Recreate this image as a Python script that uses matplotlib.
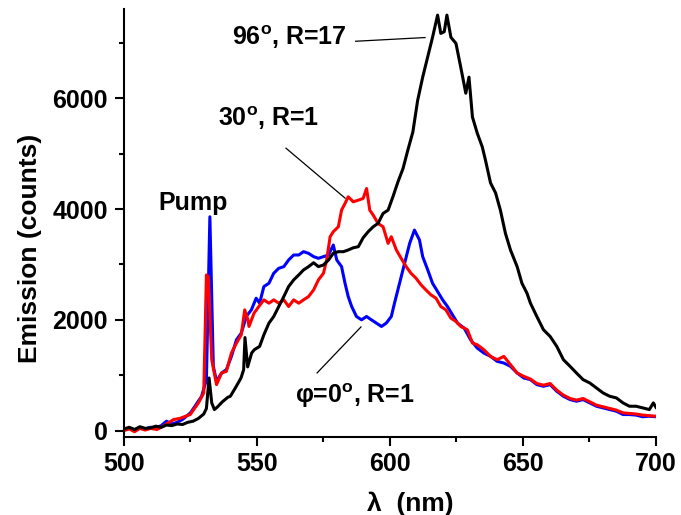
import matplotlib
matplotlib.use("Agg")
import matplotlib.pyplot as plt
from matplotlib.ticker import MultipleLocator

plt.rcParams["font.family"] = ["Liberation Sans", "DejaVu Sans"]
plt.rcParams["font.weight"] = "bold"
plt.rcParams["mathtext.fontset"] = "custom"
plt.rcParams["mathtext.rm"] = "Liberation Sans:bold"
plt.rcParams["mathtext.it"] = "Liberation Sans:bold"
plt.rcParams["mathtext.bf"] = "Liberation Sans:bold"

# phi = 0 deg, R=1 (blue)
wl_blue = [500, 502, 504, 506, 508, 510, 512, 514, 516, 518, 520, 522, 525, 526.7, 529.2, 531, 532.3,
           533.6, 534.8, 536.7, 538.5, 540.4, 542.3, 544.1, 546, 547.9, 549.7, 551, 552.6, 554.5,
           556.3, 558.2, 560.1, 561.9, 563.8, 565.7, 567.5, 569.4, 571.3, 573.1, 575, 576.9, 578.7,
           580, 581.8, 583.1, 584.3, 585.6, 587.4, 589.3, 591.2, 593, 594.9, 596.8, 598.6, 600.5,
           601.7, 603.6, 605.5, 607.4, 609.2, 611.1, 612.3, 614.2, 616, 617.9, 619.8, 621.6, 623.5,
           625.4, 627.9, 630.3, 632.8, 635.3, 637.8, 640.3, 642.8, 645.3, 647.8, 650.3, 652.8, 655.2,
           657.7, 660.2, 662.7, 665.2, 667.7, 670.1, 672.6, 675.1, 677.6, 680.1, 682.6, 685.1, 687.6,
           690, 692.5, 695, 697.5, 700]
cnt_blue = [20, 40, 10, 60, 30, 60, 50, 90, 170, 120, 150, 200, 320, 440, 620, 920, 3860,
            1160, 890, 1040, 1100, 1340, 1640, 1760, 2060, 2180, 2390, 2300, 2600, 2660,
            2840, 2930, 2960, 3080, 3170, 3170, 3230, 3200, 3140, 3110, 3140, 3170, 3350,
            3080, 2960, 2660, 2420, 2240, 2060, 2000, 2060, 2000, 1940, 1880, 1940, 2060,
            2300, 2660, 3020, 3380, 3620, 3440, 3140, 2900, 2660, 2510, 2360, 2240, 2090,
            1940, 1850, 1640, 1490, 1400, 1340, 1250, 1220, 1160, 1040, 950, 920, 830,
            800, 830, 710, 620, 560, 530, 560, 500, 440, 410, 380, 350, 290,
            290, 280, 250, 260, 250]

# 30 deg, R=1 (red)
wl_red = [500, 502, 504, 506, 508, 510, 512.4, 514, 516, 518.7,
          521, 524.9, 528, 530, 531, 531.7, 533, 534.8, 536.7, 538.5,
          540.4, 542.3, 544.1, 545.4, 546.6, 547, 548.9, 550.7, 552.6, 554.5,
          556.3, 558.2, 560.1, 561.9, 563.8, 565.7, 567.5, 569.4, 571.3, 573.1,
          575, 576.2, 577.5, 578.7, 580.6, 581.8, 583.1, 584.3, 586.2, 588.1,
          589.9, 591.2, 592.4, 593.7, 595.5, 597.4, 599.3, 600.5, 602.4, 604.2,
          606.1, 607.9, 609.8, 611.7, 613.5, 615.4, 617.3, 619.1, 621, 622.9,
          624.8, 626.6, 629.1, 631, 632.8, 635.3, 637.8, 640.3, 642.8, 645.3,
          647.8, 650.3, 652.8, 655.2, 657.7, 660.2, 662.7, 665.2, 667.7, 670.1,
          672.6, 675.1, 677.6, 680.1, 682.6, 685.1, 687.6, 690, 692.5, 695,
          697.5, 700]
cnt_red = [0, 30, -20, 40, 10, 40, 20, 60, 120, 200,
           220, 290, 500, 680, 2810, 2780, 1280, 830, 1040, 1070,
           1400, 1580, 1730, 2180, 2000, 1880, 2120, 2240, 2360, 2300,
           2360, 2300, 2360, 2240, 2360, 2300, 2360, 2420, 2540, 2720,
           2840, 3080, 3500, 3590, 3680, 3980, 4100, 4220, 4130, 4160,
           4190, 4370, 3980, 3890, 3740, 3680, 3380, 3500, 3260, 3110,
           2960, 2840, 2750, 2630, 2540, 2450, 2390, 2240, 2180, 2030,
           1970, 1880, 1820, 1580, 1550, 1460, 1340, 1280, 1340, 1190,
           1040, 980, 930, 850, 820, 850, 730, 640, 580, 550,
           580, 520, 460, 430, 400, 370, 320, 310, 300, 280,
           270, 260]

# 96 deg, R=17 (black)
wl_black = [500, 502, 504, 506, 508, 510, 512, 514, 516, 518, 520, 522, 524, 526, 528, 530, 531, 532,
            533, 534, 535, 537, 539, 540, 542, 544, 545, 545.5, 546.5, 548, 549, 551, 552.6, 554.5,
            556.3, 558.2, 560.1, 561.9, 563.8, 565.7, 567.5, 569.4, 571.3, 573.1, 575, 576.9, 578.7,
            580.6, 582.5, 584.3, 586.2, 588.1, 589.9, 591.8, 593.7, 595.5, 597.4, 599.3, 601.1, 603,
            604.9, 606.7, 608.6, 610.4, 612.3, 614.2, 616, 617.9, 619.1, 620.4, 621.4, 622.9, 624.8,
            626.6, 628.5, 629.7, 631, 632.8, 634.7, 635.9, 637.8, 639.7, 641.5, 643.4, 645.3, 647.8,
            649.6, 651.5, 652.8, 655.2, 657.7, 660.2, 662.7, 665.2, 667.7, 670.1, 672.6, 675.1, 677.6,
            680.1, 682.6, 685.1, 687.6, 690, 692.5, 695, 697.5, 699, 700]
cnt_black = [30, 60, 20, 70, 40, 50, 80, 60, 100, 90, 120, 110, 150, 170, 220, 300, 400, 950,
             500, 380, 420, 520, 600, 620, 780, 950, 1100, 1680, 1150, 1400, 1460, 1520, 1730, 1940,
             2060, 2240, 2420, 2600, 2720, 2810, 2900, 2960, 3030, 2960, 2990, 3080, 3200,
             3230, 3230, 3260, 3300, 3320, 3480, 3590, 3680, 3740, 3920, 3980, 4220, 4490,
             4730, 5060, 5390, 5960, 6380, 6750, 7100, 7500, 7170, 7200, 7500, 7100, 6990,
             6560, 6090, 6380, 5660, 5370, 5120, 4880, 4470, 4290, 3980, 3560, 3260, 2960,
             2660, 2480, 2300, 2060, 1820, 1700, 1520, 1280, 1160, 1040, 920, 860, 770,
             680, 620, 590, 500, 440, 440, 410, 380, 500, 420]

fig = plt.figure(figsize=(6.81, 5.15), dpi=100)
ax = fig.add_axes([0.182, 0.1515, 0.7813, 0.831])

ax.plot(wl_blue, cnt_blue, color="#0000ff", lw=2.2)
ax.plot(wl_red, cnt_red, color="#ff0000", lw=2.2)
ax.plot(wl_black, cnt_black, color="black", lw=2.2)

ax.set_xlim(500, 700)
ax.set_ylim(-115, 7610)
ax.xaxis.set_major_locator(MultipleLocator(50))
ax.xaxis.set_minor_locator(MultipleLocator(25))
ax.yaxis.set_major_locator(MultipleLocator(2000))
ax.yaxis.set_minor_locator(MultipleLocator(1000))
ax.spines["top"].set_visible(False)
ax.spines["right"].set_visible(False)
ax.spines["left"].set_linewidth(1.5)
ax.spines["bottom"].set_linewidth(1.5)
ax.tick_params(which="major", length=6.5, width=1.5, labelsize=18)
ax.tick_params(which="minor", length=3.5, width=1.5)
ax.tick_params(axis="y", which="major", pad=5)
ax.tick_params(axis="x", which="major", pad=4)

ax.set_xlabel("λ  (nm)", fontsize=19, fontweight="bold")
ax.set_ylabel("Emission (counts)", fontsize=19, fontweight="bold")
ax.xaxis.set_label_coords(0.5376, -0.1285)
ax.yaxis.set_label_coords(-0.154, 0.44)

fs = 18
ax.text(540.6, 6955, r"96$^{\rm o}$, R=17", fontsize=fs, fontweight="bold")
ax.text(535.3, 5495, r"30$^{\rm o}$, R=1", fontsize=fs, fontweight="bold")
ax.text(512.8, 3980, "Pump", fontsize=fs, fontweight="bold")
ax.text(564.3, 500, r"φ=0$^{\rm o}$, R=1", fontsize=fs, fontweight="bold")

ax.plot([587.1, 613.2], [7028, 7095], color="black", lw=0.9)
ax.plot([560.9, 583.1], [5098, 4197], color="black", lw=0.9)
ax.plot([572.6, 589.1], [1041, 1871], color="black", lw=0.9)

fig.savefig("out.png", dpi=100)
